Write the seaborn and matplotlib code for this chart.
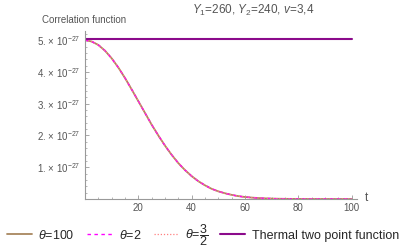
import numpy as np
import pandas as pd
import matplotlib
matplotlib.use('Agg')
import matplotlib.pyplot as plt
import seaborn as sns
from matplotlib.ticker import MultipleLocator, FixedLocator

sns.set_style('white')
plt.rcParams['font.family'] = ['Liberation Sans', 'DejaVu Sans']
plt.rcParams['mathtext.fontset'] = 'custom'
plt.rcParams['mathtext.rm'] = 'Liberation Sans'
plt.rcParams['mathtext.it'] = 'Liberation Sans:italic'

# correlation values, in units of 1e-27
t = [0, 2.5, 5, 7.5, 10, 12.5, 15, 17.5, 20, 22.5, 25, 27.5, 30, 32.5, 35,
     37.5, 40, 42.5, 45, 47.5, 50, 52.5, 55, 57.5, 60, 62.5, 65, 67.5, 70,
     72.5, 75, 77.5, 80, 85, 90, 95, 100]
corr = [5.00, 4.96, 4.85, 4.67, 4.43, 4.14, 3.81, 3.45, 3.08, 2.71, 2.34,
        2.00, 1.68, 1.39, 1.13, 0.91, 0.72, 0.56, 0.43, 0.32, 0.24, 0.18,
        0.13, 0.09, 0.063, 0.044, 0.030, 0.020, 0.013, 0.008, 0.005, 0.003,
        0.002, 0.001, 0.0, 0.0, 0.0]
thermal_t = [0, 100]
thermal = [5.03, 5.03]
scale = 1e-27

labels = [r'$\theta$=100', r'$\theta$=2', r'$\theta$=$\dfrac{3}{2}$', 'Thermal two point function']
colors = ['#A8875F', '#FF00FF', '#FF8080', '#8B0A8B']
styles = ['-', (0, (2.5, 2.5)), (0, (1, 1.5)), '-']
widths = [1.3, 1.0, 0.9, 1.5]

df = pd.DataFrame({'t': t, 'C': np.array(corr) * scale})
df_th = pd.DataFrame({'t': thermal_t, 'C': np.array(thermal) * scale})

fig = plt.figure(figsize=(4.06, 2.5), dpi=100)
ax = fig.add_axes([85/406, 51/250, 272/406, 168/250])

for i in range(3):
    sns.lineplot(data=df, x='t', y='C', ax=ax, color=colors[i], linestyle=styles[i],
                 linewidth=widths[i], label=labels[i])
sns.lineplot(data=df_th, x='t', y='C', ax=ax, color=colors[3], linewidth=widths[3],
             label=labels[3])

ax.set_xlim(0, 102)
ax.set_ylim(0, 5.29e-27)
ax.set_xlabel('')
ax.set_ylabel('')

for s in ['top', 'right']:
    ax.spines[s].set_visible(False)
for s in ['left', 'bottom']:
    ax.spines[s].set_color('#999999')
    ax.spines[s].set_linewidth(0.8)

ax.xaxis.set_major_locator(FixedLocator([20, 40, 60, 80, 100]))
ax.xaxis.set_minor_locator(MultipleLocator(5))
ax.yaxis.set_major_locator(FixedLocator([v * scale for v in [1, 2, 3, 4, 5]]))
ax.yaxis.set_minor_locator(MultipleLocator(0.2e-27))
ax.set_yticklabels([r'%d. $\times$ 10$^{-27}$' % v for v in [1, 2, 3, 4, 5]])
ax.tick_params(which='major', direction='in', length=3, width=0.6, color='#999999',
               labelsize=7, labelcolor='#555555', pad=3)
ax.tick_params(which='minor', direction='in', length=1.5, width=0.5, color='#999999')
ax.tick_params(axis='both', which='both', bottom=True, left=True)

fig.text(365/406, 1 - 198/250, 't', fontsize=8.5, color='#555555', va='center')
fig.text(42/406, 1 - 20/250, 'Correlation function', fontsize=7, color='#555555', va='center')
fig.text(253/406, 1 - 10/250, r'$Y_1$=260, $Y_2$=240, $v$=3,4', fontsize=8.5,
         color='#555555', ha='center', va='center')

ax.legend(loc='center', bbox_to_anchor=(203/406, 1 - 235/250), bbox_transform=fig.transFigure,
          ncol=4, frameon=False, fontsize=9, handlelength=2.0, columnspacing=1.0,
          handletextpad=0.5)

fig.savefig('out.png', dpi=100)
